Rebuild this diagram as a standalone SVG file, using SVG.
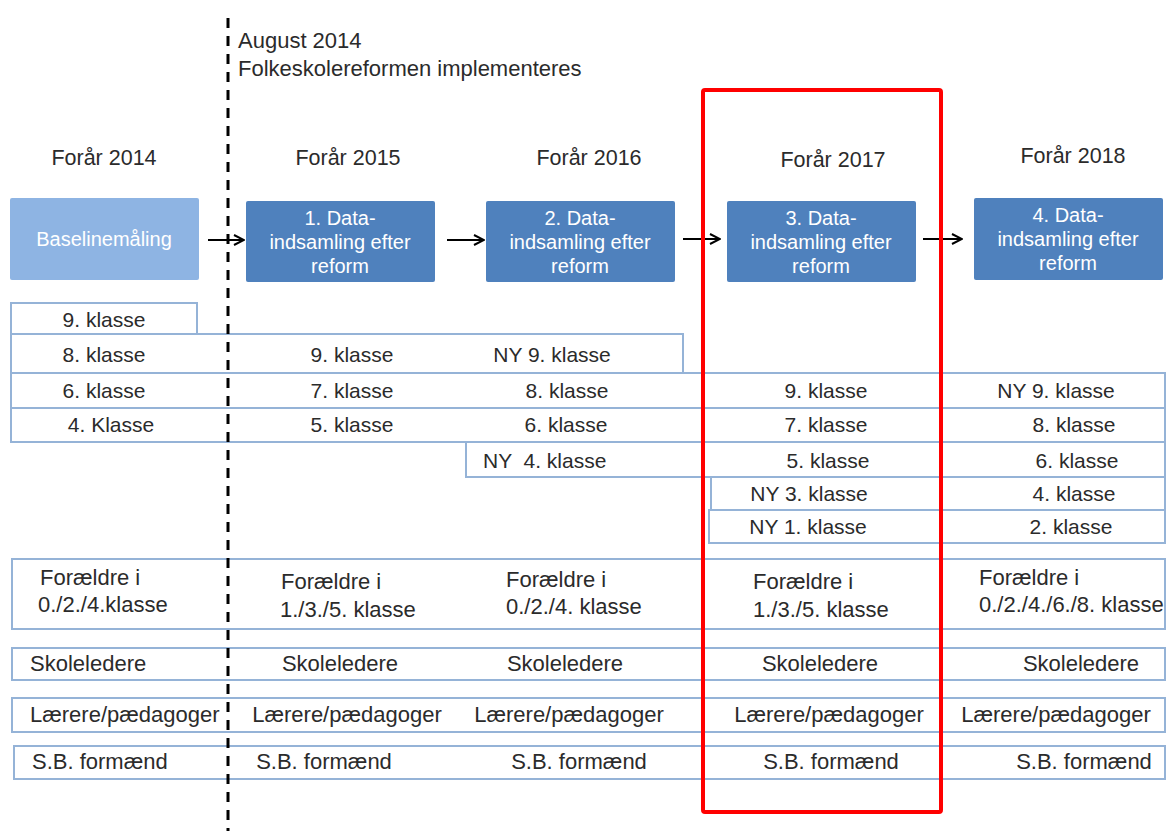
<svg xmlns="http://www.w3.org/2000/svg" width="1167" height="831" viewBox="0 0 1167 831">
<style>
text{font-family:"Liberation Sans","DejaVu Sans",sans-serif;fill:#2b2b2b;font-size:21px}
.c{text-anchor:middle}
.w{fill:#ffffff;font-size:20px;text-anchor:middle}
.hd{font-size:21.5px;text-anchor:middle}
.top{font-size:22px}
.r{font-size:22px}
.row{fill:none;stroke:#95B3D7;stroke-width:2}
.dk{fill:#4F81BD}
.lt{fill:#8EB4E3}
.arr{stroke:#000;stroke-width:2;fill:none}
</style>
<defs>
<marker id="ah" viewBox="0 0 12 12" refX="11" refY="6" markerWidth="12" markerHeight="12" markerUnits="userSpaceOnUse" orient="auto">
<path d="M1,1 L11,6 L1,11" fill="none" stroke="#000" stroke-width="2"/>
</marker>
</defs>
<rect width="1167" height="831" fill="#fff"/>

<g id="headers">
<text class="top" x="238" y="48">August 2014</text>
<text class="top" x="238" y="76">Folkeskolereformen implementeres</text>
<text class="hd" x="104" y="165">Forår 2014</text>
<text class="hd" x="348" y="165">Forår 2015</text>
<text class="hd" x="589" y="165">Forår 2016</text>
<text class="hd" x="833" y="167">Forår 2017</text>
<text class="hd" x="1073" y="163">Forår 2018</text>
</g>

<g id="node-baseline">
<rect class="lt" x="10" y="198" width="189" height="82" rx="2"/>
<text class="w" x="104" y="246">Baselinemåling</text>
</g>
<g id="node-1">
<rect class="dk" x="246" y="201" width="189" height="81" rx="2"/>
<text class="w" x="340" y="225">1. Data-</text>
<text class="w" x="340" y="249">indsamling efter</text>
<text class="w" x="340" y="273">reform</text>
</g>
<g id="node-2">
<rect class="dk" x="486" y="201" width="189" height="81" rx="2"/>
<text class="w" x="580" y="225">2. Data-</text>
<text class="w" x="580" y="249">indsamling efter</text>
<text class="w" x="580" y="273">reform</text>
</g>
<g id="node-3">
<rect class="dk" x="727" y="201" width="189" height="81" rx="2"/>
<text class="w" x="821" y="225">3. Data-</text>
<text class="w" x="821" y="249">indsamling efter</text>
<text class="w" x="821" y="273">reform</text>
</g>
<g id="node-4">
<rect class="dk" x="974" y="198" width="189" height="82" rx="2"/>
<text class="w" x="1068" y="222">4. Data-</text>
<text class="w" x="1068" y="246">indsamling efter</text>
<text class="w" x="1068" y="270">reform</text>
</g>

<g id="connectors">
<line class="arr" x1="208" y1="240" x2="244" y2="240" marker-end="url(#ah)"/>
<line class="arr" x1="447" y1="240" x2="484" y2="240" marker-end="url(#ah)"/>
<line class="arr" x1="683" y1="239" x2="720" y2="239" marker-end="url(#ah)"/>
<line class="arr" x1="923" y1="239" x2="962" y2="239" marker-end="url(#ah)"/>
</g>

<g id="grade-rows">
<rect class="row" x="11" y="303" width="186" height="31"/>
<text class="c" x="104" y="327">9. klasse</text>

<rect class="row" x="11" y="334" width="672" height="39"/>
<text class="c" x="104" y="362">8. klasse</text>
<text class="c" x="352" y="362">9. klasse</text>
<text class="c" x="552" y="362">NY 9. klasse</text>

<rect class="row" x="11" y="373" width="1154" height="35"/>
<text class="c" x="104" y="398">6. klasse</text>
<text class="c" x="352" y="398">7. klasse</text>
<text class="c" x="567" y="398">8. klasse</text>
<text class="c" x="826" y="398">9. klasse</text>
<text class="c" x="1056" y="398">NY 9. klasse</text>

<rect class="row" x="11" y="408" width="1154" height="34"/>
<text class="c" x="111" y="432">4. Klasse</text>
<text class="c" x="352" y="432">5. klasse</text>
<text class="c" x="566" y="432">6. klasse</text>
<text class="c" x="826" y="432">7. klasse</text>
<text class="c" x="1074" y="432">8. klasse</text>

<rect class="row" x="466" y="442" width="699" height="35"/>
<text x="483" y="468" xml:space="preserve">NY  4. klasse</text>
<text class="c" x="828" y="468">5. klasse</text>
<text class="c" x="1077" y="468">6. klasse</text>

<rect class="row" x="711" y="477" width="454" height="33"/>
<text class="c" x="809" y="501">NY 3. klasse</text>
<text class="c" x="1074" y="501">4. klasse</text>

<rect class="row" x="709" y="510" width="456" height="33"/>
<text class="c" x="808" y="534">NY 1. klasse</text>
<text class="c" x="1071" y="534">2. klasse</text>
</g>

<g id="respondent-rows">
<rect class="row" x="12" y="559" width="1153" height="70"/>
<text class="r" x="40" y="585">Forældre i</text>
<text class="r" x="38" y="612">0./2./4.klasse</text>
<text class="r" x="281" y="589">Forældre i</text>
<text class="r" x="280" y="617">1./3./5. klasse</text>
<text class="r" x="506" y="587">Forældre i</text>
<text class="r" x="506" y="614">0./2./4. klasse</text>
<text class="r" x="753" y="589">Forældre i</text>
<text class="r" x="753" y="617">1./3./5. klasse</text>
<text class="r" x="979" y="585">Forældre i</text>
<text class="r" x="979" y="612">0./2./4./6./8. klasse</text>

<rect class="row" x="12" y="648" width="1153" height="32"/>
<text class="r" x="30" y="671">Skoleledere</text>
<text class="r c" x="340" y="671">Skoleledere</text>
<text class="r c" x="565" y="671">Skoleledere</text>
<text class="r c" x="820" y="671">Skoleledere</text>
<text class="r c" x="1081" y="671">Skoleledere</text>

<rect class="row" x="12" y="698" width="1153" height="34"/>
<text class="r" x="30" y="722">Lærere/pædagoger</text>
<text class="r c" x="347" y="722">Lærere/pædagoger</text>
<text class="r c" x="569" y="722">Lærere/pædagoger</text>
<text class="r c" x="829" y="722">Lærere/pædagoger</text>
<text class="r c" x="1056" y="722">Lærere/pædagoger</text>

<rect class="row" x="14" y="746" width="1151" height="33"/>
<text class="r" x="32" y="769">S.B. formænd</text>
<text class="r c" x="324" y="769">S.B. formænd</text>
<text class="r c" x="579" y="769">S.B. formænd</text>
<text class="r c" x="831" y="769">S.B. formænd</text>
<text class="r c" x="1084" y="769">S.B. formænd</text>
</g>

<g id="reform-line">
<line x1="228" y1="18" x2="228" y2="831" stroke="#000" stroke-width="3" stroke-dasharray="10 8"/>
</g>

<g id="highlight-2017">
<rect x="703" y="90" width="238" height="722" rx="2" fill="none" stroke="#FF0000" stroke-width="4"/>
</g>
</svg>
